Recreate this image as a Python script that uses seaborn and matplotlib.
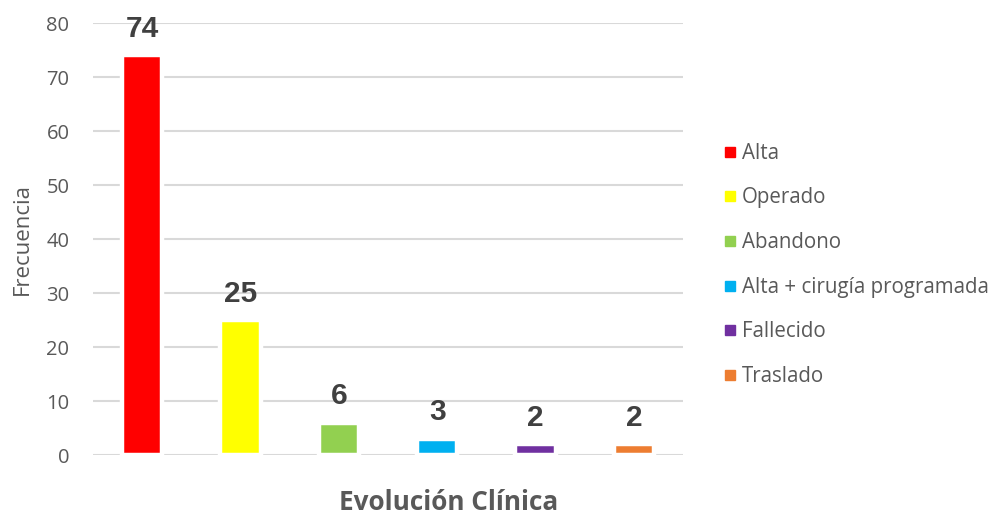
import pandas as pd
import seaborn as sns
import matplotlib.pyplot as plt
from matplotlib.lines import Line2D

categories = ['Alta', 'Operado', 'Abandono', 'Alta + cirugía programada', 'Fallecido', 'Traslado']
frecuencia = [74, 25, 6, 3, 2, 2]
colors = ['#FF0000', '#FFFF00', '#92D050', '#00B0F0', '#7030A0', '#ED7D31']

sns.set_style('white')
plt.rcParams['font.family'] = ['Open Sans', 'DejaVu Sans']

df = pd.DataFrame({'evolucion': categories, 'frecuencia': frecuencia})

fig = plt.figure(figsize=(9.97, 5.15), dpi=100)
ax = fig.add_axes([0.0933, 0.1165, 0.5918, 0.8388])

sns.barplot(data=df, x='evolucion', y='frecuencia', hue='evolucion',
            palette=colors, width=0.41, saturation=1, legend=False,
            edgecolor='white', linewidth=3.2, ax=ax, zorder=3)

for container in ax.containers:
    ax.bar_label(container, padding=9, fontsize=21.5, fontweight='bold',
                 color='#404040', family='Liberation Sans')

ax.set_ylim(0, 80)
ax.set_yticks(range(0, 81, 10))
ax.set_xlim(-0.5, 5.5)
ax.set_xticks([])
ax.yaxis.grid(True, color='#D9D9D9', linewidth=1.5, zorder=0)
ax.set_axisbelow(True)
ax.tick_params(axis='y', labelsize=14.5, labelcolor='#595959', length=0, pad=17)
sns.despine(ax=ax, left=True, bottom=True)

ax.set_ylabel('Frecuencia', fontsize=16, color='#595959', labelpad=10)
ax.set_xlabel('Evolución Clínica', fontsize=18.8, fontweight='bold', color='#595959')
ax.xaxis.set_label_coords(0.603, -0.078)

handles = [Line2D([], [], marker='s', linestyle='', markersize=7,
                  markerfacecolor=c, markeredgecolor=c) for c in colors]
ax.legend(handles, categories, loc='center left', bbox_to_anchor=(1.055, 0.44),
          frameon=False, fontsize=14.8, labelcolor='#595959',
          handlelength=0.6, handletextpad=0.3, labelspacing=1.15, borderaxespad=0)

fig.savefig('out.png', dpi=100)
